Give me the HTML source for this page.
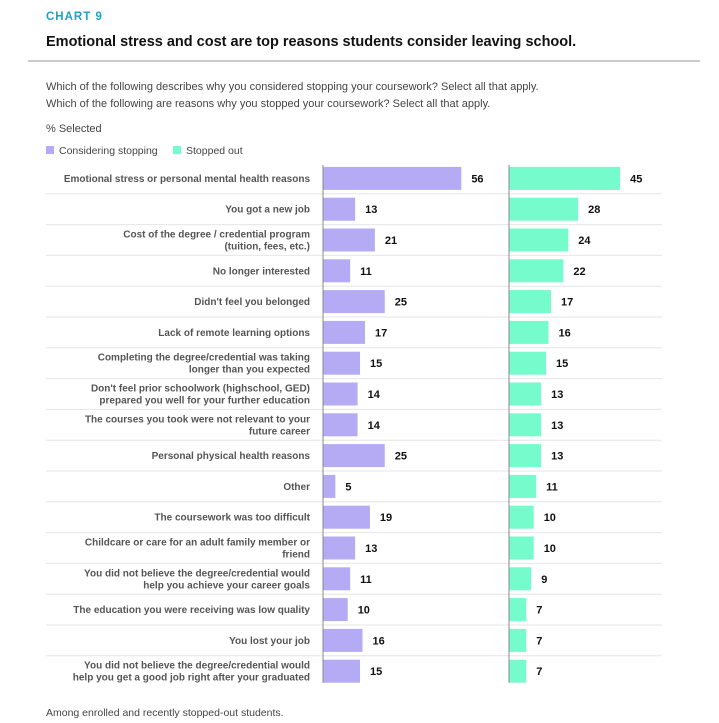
<!DOCTYPE html>
<html><head><meta charset="utf-8"><style>
body{margin:0;background:#fff;width:719px;height:718px;overflow:hidden;font-family:"Liberation Sans",sans-serif}
</style></head><body>
<svg id="c" width="719" height="718" xmlns="http://www.w3.org/2000/svg">
<text x="46" y="20" font-size="11.5" font-weight="bold" fill="#1aa3c4" letter-spacing="1">CHART 9</text>
<text x="46" y="46" font-size="14.5" font-weight="bold" fill="#111">Emotional stress and cost are top reasons students consider leaving school.</text>
<line x1="28" y1="61" x2="700" y2="61" stroke="#aaa" stroke-width="1.2"/>
<text x="46" y="90" font-size="11" fill="#444">Which of the following describes why you considered stopping your coursework? Select all that apply.</text>
<text x="46" y="107" font-size="11" fill="#444">Which of the following are reasons why you stopped your coursework? Select all that apply.</text>
<text x="46" y="132" font-size="11" fill="#444">% Selected</text>
<g>
<rect x="46" y="146" width="8" height="8" fill="#b5abf5"/>
<text x="59" y="154" font-size="10.5" fill="#444">Considering stopping</text>
<rect x="173" y="146" width="8" height="8" fill="#75fbcc"/>
<text x="186" y="154" font-size="10.5" fill="#444">Stopped out</text>
</g>
<g id="plot"></g>
<text x="46" y="716" font-size="10.5" fill="#444">Among enrolled and recently stopped-out students.</text>
</svg>
<script>
const categories=[
["Emotional stress or personal mental health reasons"],
["You got a new job"],
["Cost of the degree / credential program","(tuition, fees, etc.)"],
["No longer interested"],
["Didn't feel you belonged"],
["Lack of remote learning options"],
["Completing the degree/credential was taking","longer than you expected"],
["Don't feel prior schoolwork (highschool, GED)","prepared you well for your further education"],
["The courses you took were not relevant to your","future career"],
["Personal physical health reasons"],
["Other"],
["The coursework was too difficult"],
["Childcare or care for an adult family member or","friend"],
["You did not believe the degree/credential would","help you achieve your career goals"],
["The education you were receiving was low quality"],
["You lost your job"],
["You did not believe the degree/credential would","help you get a good job right after your graduated"]];
const considering=[56,13,21,11,25,17,15,14,14,25,5,19,13,11,10,16,15];
const stopped=[45,28,24,22,17,16,15,13,13,13,11,10,10,9,7,7,7];
const NS="http://www.w3.org/2000/svg";
const g=document.getElementById('plot');
const top0=163,step=30.8,bh=23,scale=2.47,x1=323,x2=509;
const yC=i=>top0+step*i+step/2;
const xs=v=>v*scale;
function mk(t,a){const e=document.createElementNS(NS,t);for(const k in a)e.setAttribute(k,a[k]);g.appendChild(e);return e;}
categories.forEach((c,i)=>{
 const y=yC(i);
 if(i<categories.length-1){const l=mk('line',{x1:46,x2:662,y1:y+step/2,y2:y+step/2,stroke:'#e6e6e6','stroke-width':1});
 
 }
 const t=mk('text',{x:310,'text-anchor':'end','font-size':10,'font-weight':'bold',fill:'#555'});
 
 
 c.forEach((ln,j)=>{const s=document.createElementNS(NS,'tspan');s.setAttribute('x',310);s.setAttribute('y',y+3.5+(j-(c.length-1)/2)*12);s.textContent=ln;t.appendChild(s);});
 const b1=mk('rect',{x:x1,y:y-bh/2,width:xs(considering[i]),height:bh,fill:'#b5abf5'});
 
 
 const v1=mk('text',{x:x1+xs(considering[i])+10,y:y+4,'font-size':11,'font-weight':'bold',fill:'#111'});
 v1.textContent=considering[i];
 
 
 const b2=mk('rect',{x:x2,y:y-bh/2,width:xs(stopped[i]),height:bh,fill:'#75fbcc'});
 
 
 const v2=mk('text',{x:x2+xs(stopped[i])+10,y:y+4,'font-size':11,'font-weight':'bold',fill:'#111'});
 v2.textContent=stopped[i];
 
 
});
[x1,x2].forEach(x=>{const l=mk('line',{x1:x,x2:x,y1:top0+2,y2:yC(categories.length-1)+bh/2,stroke:'#888','stroke-width':1});
 
 });
</script>
</body></html>
